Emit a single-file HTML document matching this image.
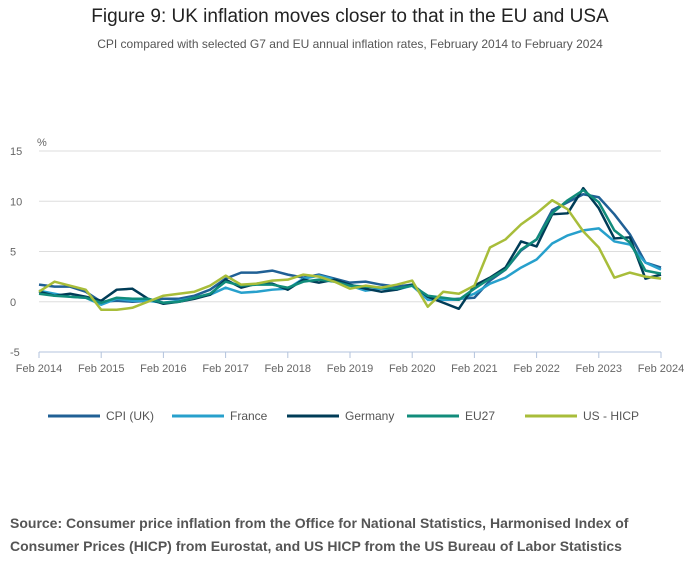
<!DOCTYPE html>
<html><head><meta charset="utf-8"><style>
body{margin:0;background:#fff;font-family:"Liberation Sans",sans-serif;}
#wrap{position:relative;width:700px;height:574px;overflow:hidden;}
.t{position:absolute;left:0;width:700px;text-align:center;}
</style></head><body>
<div id="wrap">
<div class="t" style="top:6px;font-size:19px;color:#222">Figure 9: UK inflation moves closer to that in the EU and USA</div>
<div class="t" style="top:37px;font-size:12px;color:#555">CPI compared with selected G7 and EU annual inflation rates, February 2014 to February 2024</div>
<svg id="chart" width="700" height="460" style="position:absolute;left:0;top:0"></svg>
<div style="position:absolute;left:10px;top:512px;width:680px;font-size:14px;font-weight:bold;color:#555;line-height:23px">Source: Consumer price inflation from the Office for National Statistics, Harmonised Index of Consumer Prices (HICP) from Eurostat, and US HICP from the US Bureau of Labor Statistics</div>
</div>
<script>
const xLabels=["Feb 2014","Feb 2015","Feb 2016","Feb 2017","Feb 2018","Feb 2019","Feb 2020","Feb 2021","Feb 2022","Feb 2023","Feb 2024"];
const yTicks=[15,10,5,0,-5];
const seriesNames=["CPI (UK)","France","Germany","EU27","US - HICP"];
const colors=["#206095","#27a0cc","#003c57","#118c7b","#a8bd3a"];
// quarterly observations: Feb, May, Aug, Nov from Feb 2014 to Feb 2024
const cpiUK=[1.7,1.5,1.5,1.0,0.0,0.1,0.0,0.1,0.3,0.3,0.6,1.2,2.3,2.9,2.9,3.1,2.7,2.4,2.7,2.3,1.9,2.0,1.7,1.5,1.7,0.5,0.2,0.3,0.4,2.1,3.2,5.1,6.2,9.1,9.9,10.7,10.4,8.7,6.7,3.9,3.4];
const france=[1.1,0.8,0.5,0.4,-0.3,0.3,0.1,0.1,-0.1,0.1,0.4,0.7,1.4,0.9,1.0,1.2,1.3,2.3,2.6,2.2,1.6,1.1,1.3,1.2,1.6,0.2,0.2,0.2,0.8,1.8,2.4,3.4,4.2,5.8,6.6,7.1,7.3,6.0,5.7,3.9,3.2];
const germany=[1.0,0.6,0.8,0.5,0.1,1.2,1.3,0.3,-0.2,0.0,0.3,0.7,2.2,1.4,1.8,1.8,1.2,2.2,1.9,2.2,1.7,1.3,1.0,1.2,1.7,0.5,-0.1,-0.7,1.6,2.4,3.4,6.0,5.5,8.7,8.8,11.3,9.3,6.3,6.4,2.3,2.7];
const eu27=[0.8,0.6,0.5,0.4,-0.1,0.4,0.3,0.3,-0.1,0.0,0.4,0.8,2.0,1.6,1.7,1.7,1.4,2.0,2.2,2.0,1.6,1.5,1.4,1.3,1.6,0.6,0.4,0.2,1.3,2.3,3.2,5.2,6.2,8.8,10.1,11.1,9.9,7.1,5.9,3.1,2.8];
const usHICP=[1.0,2.0,1.6,1.2,-0.8,-0.8,-0.6,0.0,0.6,0.8,1.0,1.6,2.6,1.7,1.8,2.1,2.2,2.7,2.5,2.0,1.3,1.6,1.4,1.7,2.1,-0.5,1.0,0.8,1.6,5.4,6.2,7.7,8.8,10.1,9.2,7.0,5.4,2.4,2.9,2.5,2.3];
const allSeries=[cpiUK,france,germany,eu27,usHICP];
const svg=document.getElementById('chart');const NS="http://www.w3.org/2000/svg";
const x0=39,x1=661,yTop=151,yBot=352;
const xScale=i=>x0+(x1-x0)*i/40;
const yScale=v=>yBot-(v+5)/20*(yBot-yTop);
function mk(t,a){const e=document.createElementNS(NS,t);for(const k in a)e.setAttribute(k,a[k]);svg.appendChild(e);return e;}
yTicks.forEach(v=>{
 if(v>-5){const g=mk('line',{x1:x0,x2:x1,y1:yScale(v),y2:yScale(v),stroke:'#ddd','stroke-width':1});
 
 }
 const t=mk('text',{x:10,y:yScale(v)+4,'font-size':11,fill:'#666'});t.textContent=v;
 
 
});
const u=mk('text',{x:37,y:146,'font-size':11,fill:'#666'});u.textContent='%';


const ax=mk('line',{x1:x0,x2:x1,y1:yBot,y2:yBot,stroke:'#b3c3dc','stroke-width':1});


xLabels.forEach((l,i)=>{const x=xScale(i*4);
 const tk=mk('line',{x1:x,x2:x,y1:yBot,y2:yBot+6,stroke:'#b3c3dc'});
 
 
 const t=mk('text',{x:x,y:372,'font-size':11,fill:'#666','text-anchor':'middle'});t.textContent=l;
 
 
});
allSeries.forEach((s,k)=>{
 const p=mk('polyline',{points:s.map((v,i)=>xScale(i)+','+yScale(v)).join(' '),fill:'none',stroke:colors[k],'stroke-width':2.5,'stroke-linejoin':'round'});
 
 
});
const legX=[48,172,287,407,525];
seriesNames.forEach((n,k)=>{
 const l=mk('line',{x1:legX[k],x2:legX[k]+52,y1:416,y2:416,stroke:colors[k],'stroke-width':3});
 
 
 const t=mk('text',{x:legX[k]+58,y:420,'font-size':12,fill:'#555'});t.textContent=n;
 
 
});
</script>
</body></html>
